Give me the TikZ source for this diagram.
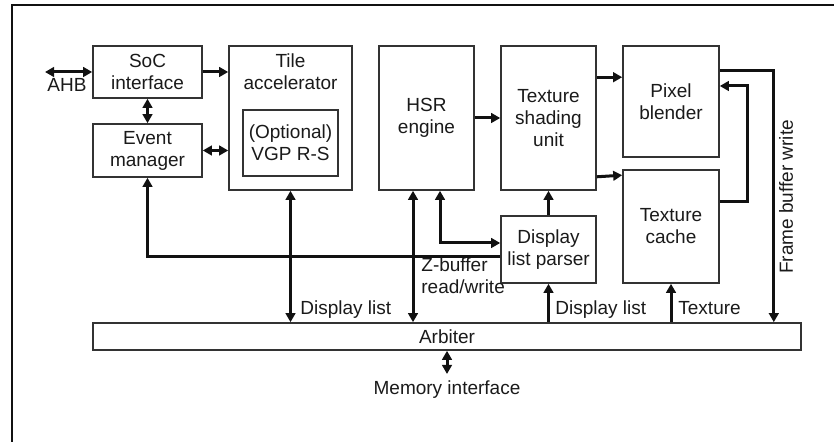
\documentclass[tikz,border=0pt]{standalone}
\usepackage{fontspec}
\setmainfont{Liberation Sans}
\usepackage{xcolor}
\usepackage{tikz}
\usetikzlibrary{calc,arrows.meta,positioning}
\definecolor{linec}{HTML}{111111}
\definecolor{boxc}{HTML}{333333}
\definecolor{textc}{HTML}{1A1A1A}
\tikzset{
  ar/.style={-{Triangle[length=4.5pt,width=4.8pt]},line width=1.5pt,linec},
  dar/.style={{Triangle[length=4.5pt,width=4.8pt]}-{Triangle[length=4.5pt,width=4.8pt]},line width=1.5pt,linec},
  blk/.style={draw=boxc,line width=0.8pt,fill=white,align=center,inner sep=1pt,text=textc,
    font=\fontsize{9.5}{11}\selectfont},
  lbl/.style={inner sep=0pt,text=textc,font=\fontsize{9.5}{11}\selectfont}
}

\begin{document}
\begin{tikzpicture}[x=0.5pt,y=-0.5pt]
\useasboundingbox (0,0) rectangle (834,442);
\draw[linec,line width=1pt] (12,442) -- (12,5) -- (834,5);
\node[blk,minimum width=54.5pt,minimum height=26pt] (soc) at (147.5,72) {SoC\\interface};
\node[blk,minimum width=54.5pt,minimum height=26.5pt] (evt) at (147.5,150.5) {Event\\manager};
\node[blk,minimum width=61.5pt,minimum height=72pt] (tile) at (290.5,118) {};
\node[lbl,align=center] (tilet) at (290.5,72) {Tile\\accelerator};
\node[blk,minimum width=47.5pt,minimum height=33pt] (vgp) at (290.5,143) {(Optional)\\VGP R-S};
\node[blk,minimum width=47.5pt,minimum height=72pt] (hsr) at (426.5,118) {HSR\\engine};
\node[blk,minimum width=47.5pt,minimum height=72pt] (tsu) at (548.5,118) {Texture\\shading\\unit};
\node[blk,minimum width=48pt,minimum height=55.5pt] (pix) at (671,101.5) {Pixel\\blender};
\node[blk,minimum width=48pt,minimum height=56.5pt] (tcache) at (671,226.5) {Texture\\cache};
\node[blk,minimum width=47.5pt,minimum height=33.5pt] (dlp) at (548.5,249.5) {Display\\list parser};
\node[blk,minimum width=354pt,minimum height=13.5pt] (arb) at (447,336.5) {Arbiter};

\coordinate (ahb) at (45,72);
\coordinate (memc) at (447,374);
\node[lbl,anchor=base] (ahbt) at (67,92) {AHB};
\node[lbl,anchor=base west] (dl1) at (300,315) {Display list};
\node[lbl,anchor=base west,align=left] (zbuf) at (421,294) {Z-buffer\\read/write};
\node[lbl,anchor=base west] (dl2) at (555,315) {Display list};
\node[lbl,anchor=base west] (texl) at (678,315) {Texture};
\node[lbl,anchor=base] (memt) at (447,395) {Memory interface};
\node[lbl,rotate=90] (fbw) at (786,197) {Frame buffer write};

\draw[dar] (ahb) -- (soc.west);
\draw[ar] (soc.east) -- (soc.east -| tile.west);
\draw[dar] (soc.south) -- (evt.north);
\draw[dar] (evt.east) -- (evt.east -| tile.west);
\draw[ar] ($(dlp.west)+(0,7.5)$) -| (evt.south);
\draw[dar] (tile.south) -- (tile.south |- arb.north);
\draw[dar] ($(hsr.south)+(-13.5,0)$) -- ($(hsr.south |- arb.north)+(-13.5,0)$);
\draw[dar] ($(dlp.west)+(0,-6.5)$) -| ($(hsr.south)+(13.5,0)$);
\draw[ar] (hsr.east) -- (hsr.east -| tsu.west);
\draw[ar] (dlp.north) -- (tsu.south);
\draw[ar] (dlp.south |- arb.north) -- (dlp.south);
\draw[ar] ($(tsu.north east)+(0,32)$) -- ($(pix.north west)+(0,32)$);
\draw[ar] ($(tsu.south east)+(0,-14)$) -- ($(tcache.north west)+(0,6)$);
\draw[ar] ($(tcache.east)+(0,-24.5)$) -- ++(28,0) |- ($(pix.east)+(0,-15.5)$);
\draw[ar] ($(pix.east)+(0,-30.5)$) -| ($(arb.north east)+(-28,0)$);
\draw[ar] (tcache.south |- arb.north) -- (tcache.south);
\draw[dar] (arb.south) -- (memc);
\end{tikzpicture}
\end{document}
